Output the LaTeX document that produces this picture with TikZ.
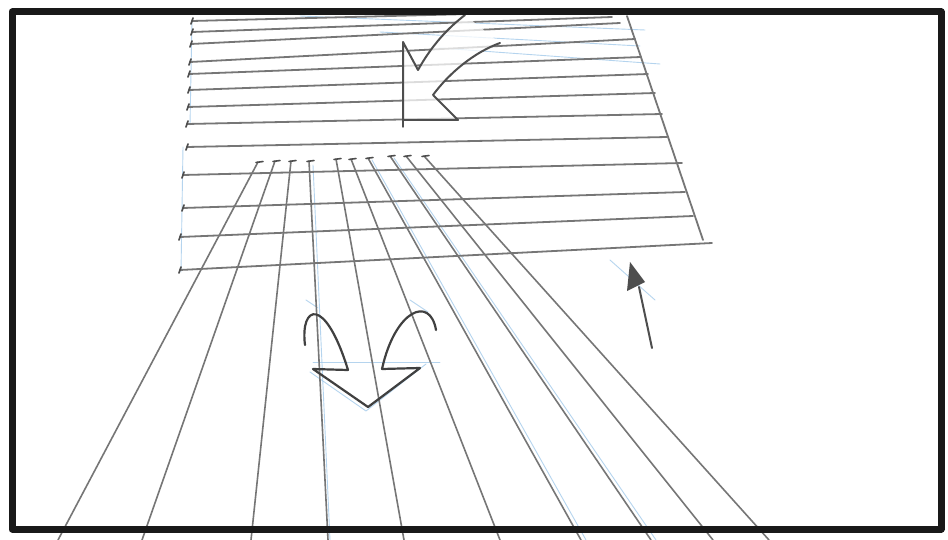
\documentclass[tikz,border=0pt]{standalone}
\definecolor{pencil}{RGB}{118,118,118}
\definecolor{pencildark}{RGB}{78,78,78}
\definecolor{blueline}{RGB}{150,195,232}
\begin{document}
\begin{tikzpicture}[x=1pt,y=-1pt,line cap=round,line join=round,
  framebox/.style={line width=7pt,black!90},
  hline/.style={pencil,line width=1.8pt},
  ray/.style={pencil,line width=1.6pt},
  cons/.style={blueline,line width=0.9pt,opacity=0.7},
  tickmark/.style={pencildark,line width=1.6pt},
  sketcharrow/.style={pencildark,line width=2pt}]
\useasboundingbox (0,0) rectangle (948,540);
\clip (0,0) rectangle (948,540);
\fill[white] (0,0) rectangle (948,540);
% blue construction lines
\draw[cons] (192,20) -- (190,125);
\draw[cons] (183,147) -- (181,272);
\draw[cons] (300,16) -- (645,30);
\draw[cons] (380,32) -- (640,46);
\draw[cons] (440,48) -- (660,64);
\draw[cons] (313,362) -- (440,362);
\draw[cons] (310,372) -- (366,411) -- (426,364);
\draw[cons] (306,300) -- (318,308);
\draw[cons] (410,300) -- (428,312);
\draw[cons] (313,165) -- (330,540);
\draw[cons] (372,160) -- (586,540);
\draw[cons] (394,158) -- (656,540);
\draw[cons] (610,260) -- (655,300);
% horizontal lines
\foreach \a/\b/\c/\d in {192/21/470/14, 192/32/612/17, 191/44/620/23,
  190/62/635/39, 189/74/641/57, 189/90/648/74, 188/107/655/93,
  187/124/662/114, 187/147/667/137, 183/175/682/163, 183/208/685/192,
  180/237/693/216, 180/270/712/243}{
  \draw[hline] (\a,\b) -- (\c,\d);
  \draw[tickmark] (\a+1,\b-3) -- (\a-1,\b+3);
}
% slanted right edge
\draw[hline] (627,16) -- (703,240);
% converging rays
\foreach \t/\u/\e in {258/162/58, 275/161/142, 291/161/251, 309/161/328,
  336/159/404, 351/159/500, 368/158/581, 390/156/651, 406/156/713, 424/156/769}{
  \draw[ray] (\t,\u) -- (\e,540);
  \draw[tickmark] (\t-2,\u+0.5) -- (\t+5,\u-0.5);
}
% top curved arrow
\filldraw[sketcharrow,fill=white,fill opacity=0.75]
  (465,15) .. controls (448,28) and (432,45) .. (418,70)
  -- (403,42) -- (403,120) -- (458,120) -- (433,95)
  .. controls (450,72) and (475,52) .. (500,43);
\draw[sketcharrow,line width=1.4pt] (403,118) -- (403,127);
% split arrow
\draw[sketcharrow,line width=2.2pt,black!75]
  (305,345) .. controls (300,305) and (325,295) .. (348,370)
  -- (313,369) -- (368,407) -- (420,368) -- (382,369)
  .. controls (395,310) and (430,295) .. (436,330);
% small up arrow
\draw[sketcharrow] (652,348) -- (639,287);
\fill[pencildark] (630,262) -- (645,282) -- (627,291) -- cycle;
% frame
\draw[framebox] (12,12) rectangle (941,529);
\end{tikzpicture}
\end{document}
